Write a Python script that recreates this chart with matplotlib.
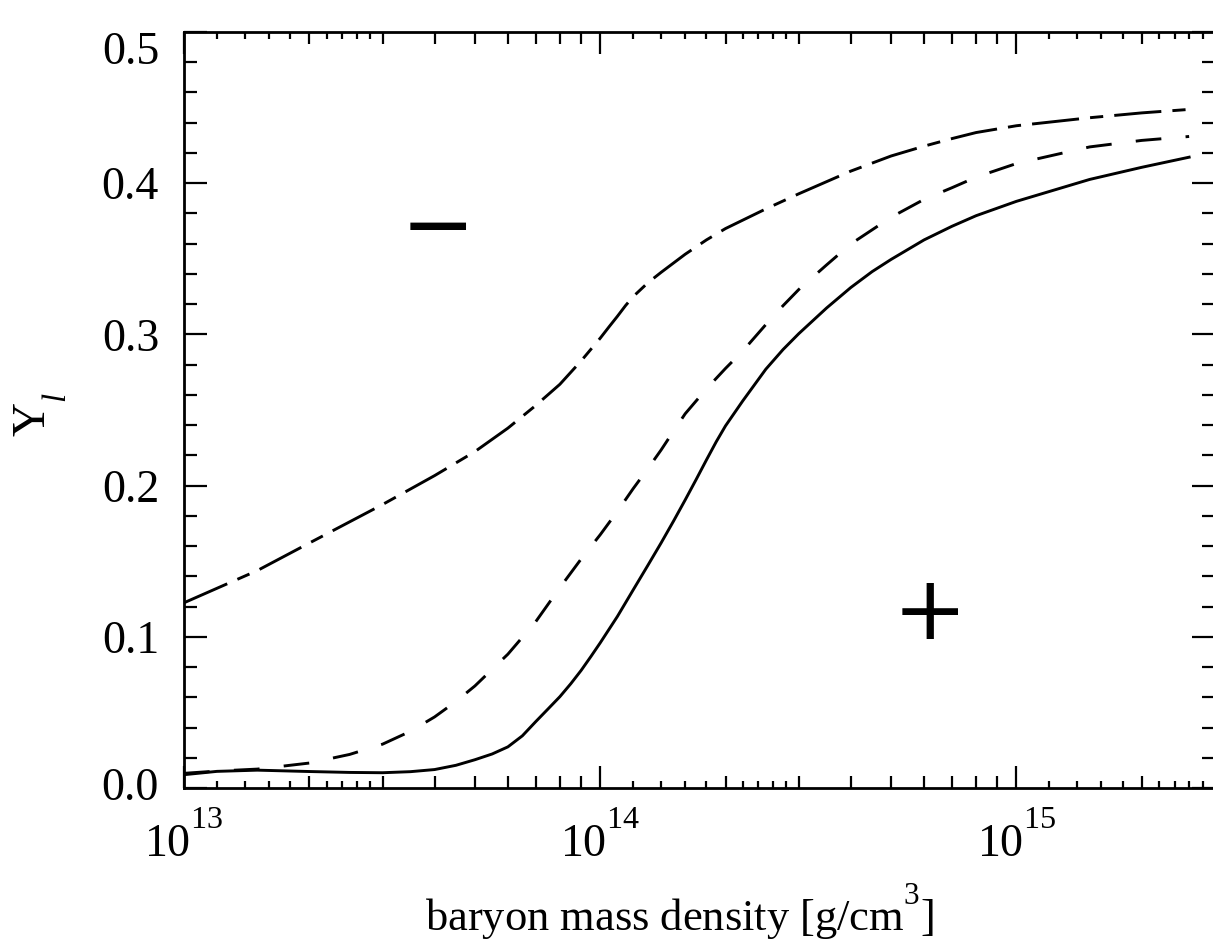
import numpy as np
import matplotlib
matplotlib.use("Agg")
import matplotlib.pyplot as plt
from matplotlib import _mathtext
from matplotlib.transforms import ScaledTranslation
from matplotlib.ticker import FixedLocator, NullLocator, NullFormatter, LogFormatterMathtext, FormatStrFormatter

plt.rcParams['font.family'] = ['Liberation Serif', 'DejaVu Serif']
plt.rcParams['mathtext.fontset'] = 'custom'
plt.rcParams['mathtext.rm'] = 'Liberation Serif'
plt.rcParams['mathtext.it'] = 'Liberation Serif:italic'
plt.rcParams['lines.scale_dashes'] = False
# raise superscripts / drop subscripts further (as in the original typesetting)
_mathtext.FontConstantsBase.sup1 = 1.3
_mathtext.FontConstantsBase.sub1 = 1.0

# ---- data ----
rho_solid = [1e13, 1.2e13, 1.5e13, 2e13, 2.5e13, 3e13, 3.5e13, 4e13, 4.5e13, 5e13, 5.5e13,
             6e13, 6.5e13, 7e13, 7.5e13, 8e13, 8.5e13, 9e13, 9.5e13, 1e14, 1.1e14, 1.2e14,
             1.3e14, 1.4e14, 1.5e14, 1.6e14, 1.7e14, 1.8e14, 1.9e14, 2e14, 2.2e14, 2.5e14,
             2.75e14, 3e14, 3.5e14, 4e14, 4.5e14, 5e14, 6e14, 7e14, 8e14, 1e15, 1.5e15,
             2e15, 2.6e15]
Y_solid = [0.0088, 0.0110, 0.0118, 0.0109, 0.0103, 0.0101, 0.0108, 0.0122, 0.0150, 0.0187, 0.0225,
           0.0272, 0.0345, 0.0439, 0.0524, 0.0604, 0.0690, 0.0778, 0.0870, 0.0960, 0.1135, 0.1310,
           0.1470, 0.1620, 0.1765, 0.1905, 0.2040, 0.2170, 0.2290, 0.2395, 0.2560, 0.2770,
           0.2900, 0.3005, 0.3175, 0.3310, 0.3415, 0.3496, 0.3625, 0.3715, 0.3785, 0.3880, 0.4025,
           0.4105, 0.4172]

rho_dashed = [1e13, 1.2e13, 1.5e13, 2e13, 2.5e13, 3e13, 3.5e13, 4e13, 4.5e13, 5e13, 6e13,
              7e13, 8e13, 9e13, 1e14, 1.1e14, 1.2e14, 1.3e14, 1.4e14, 1.5e14, 1.6e14, 1.7e14,
              1.8e14, 2e14, 2.2e14, 2.5e14, 2.75e14, 3e14, 3.5e14, 4e14, 5e14, 6e14, 7e14,
              8e14, 1e15, 1.5e15, 2e15, 2.6e15]
Y_dashed = [0.0097, 0.0112, 0.0125, 0.0165, 0.0222, 0.0290, 0.0375, 0.0470, 0.0572, 0.0675, 0.0885,
            0.1100, 0.1325, 0.1515, 0.1675, 0.1830, 0.1980, 0.2110, 0.2235, 0.2360, 0.2475, 0.2560,
            0.2640, 0.2775, 0.2890, 0.3065, 0.3190, 0.3297, 0.3460, 0.3598, 0.3775, 0.3893, 0.3970,
            0.4040, 0.4130, 0.4240, 0.4283, 0.4309]

rho_dashdot = [1e13, 1.5e13, 2e13, 3e13, 4e13, 5e13, 6e13, 7e13, 8e13, 9e13, 1e14, 1.05e14,
               1.1e14, 1.15e14, 1.2e14, 1.3e14, 1.4e14, 1.6e14, 1.8e14, 2e14, 2.5e14, 3e14,
               4e14, 5e14, 6e14, 7e14, 8e14, 1e15, 1.5e15, 2e15, 2.6e15]
Y_dashdot = [0.1225, 0.1438, 0.1620, 0.1875, 0.2066, 0.2225, 0.2380, 0.2530, 0.2670, 0.2825, 0.2975, 0.3050,
             0.3120, 0.3190, 0.3250, 0.3340, 0.3410, 0.3530, 0.3625, 0.3700, 0.3830, 0.3930,
             0.4080, 0.4180, 0.4245, 0.4295, 0.4335, 0.4380, 0.4433, 0.4465, 0.4488]

sign_labels = ['\u2212', '+']
sign_rho = [4.07e13, 6.18e14]
sign_Y = [0.3695, 0.1145]

x_lim = (1e13, 3e15)
y_lim = (0.0, 0.5)
y_major = [0.0, 0.1, 0.2, 0.3, 0.4, 0.5]
decades = [1e12, 1e13, 1e14, 1e15]
mid_subs = [2, 3, 4, 5, 6, 7, 8, 9]
fine_subs = [1.2, 1.4, 1.6, 1.8, 2.2, 2.4, 2.6, 2.8]

# ---- figure ----
W, H = 1213, 946
fig = plt.figure(figsize=(W / 100, H / 100), dpi=100)
ax = fig.add_axes([184 / W, (H - 788) / H, (1215 - 184) / W, (788 - 32) / H])

lw = 2.1
ax.plot(rho_solid, Y_solid, color='black', lw=lw, solid_joinstyle='round')
ax.plot(rho_dashed, Y_dashed, color='black', lw=lw, dashes=(18.5, 17.5))
ax.plot(rho_dashdot, Y_dashdot, color='black', lw=lw, dashes=(34, 8, 9.5, 8))

for s, xr, yv in zip(sign_labels, sign_rho, sign_Y):
    ax.text(xr, yv, s, family='DejaVu Sans', fontsize=64, ha='center', va='center')

ax.set_xscale('log')
ax.set_xlim(*x_lim)
ax.set_ylim(*y_lim)

# fine ticks on a twin axis
ax2 = ax.twiny()
ax2.set_xscale('log')
ax2.set_xlim(*x_lim)
ax2.xaxis.set_major_locator(FixedLocator([d * s for d in decades for s in fine_subs]))
ax2.xaxis.set_minor_locator(NullLocator())
ax2.xaxis.set_major_formatter(NullFormatter())
ax2.tick_params(axis='x', which='major', direction='in', top=True, bottom=True,
                labeltop=False, labelbottom=False, length=5, width=1.6)
for sp in ax2.spines.values():
    sp.set_visible(False)

ax.xaxis.set_major_locator(FixedLocator(decades))
ax.xaxis.set_minor_locator(FixedLocator([d * s for d in decades for s in mid_subs]))
ax.xaxis.set_major_formatter(LogFormatterMathtext())
ax.xaxis.set_minor_formatter(NullFormatter())
ax.yaxis.set_major_locator(FixedLocator(y_major))
ax.yaxis.set_minor_locator(FixedLocator(np.arange(0, 0.5001, 0.02)))
ax.yaxis.set_major_formatter(FormatStrFormatter('%.1f'))

ax.tick_params(which='both', direction='in', top=True, bottom=True, left=True, right=True,
               width=1.6, labelsize=33, colors='black')
ax.tick_params(axis='x', which='major', length=16, pad=18)
ax.tick_params(axis='x', which='minor', length=8.6)
ax.tick_params(axis='y', which='major', length=16.5, pad=18)
ax.tick_params(axis='y', which='minor', length=9.4)
for sp in ax.spines.values():
    sp.set_linewidth(2.0)

ax.set_xlabel('baryon mass density [g/cm$^3$]', fontsize=32)
ax.xaxis.set_label_coords(0.48, -0.124)
ax.set_ylabel('Y$_{l}$', fontsize=34)
ax.yaxis.set_label_coords(-0.1125, 0.4934)

# the original nudges the end labels of the y axis inward
yt = ax.yaxis.get_major_ticks()
for idx, dy in ((0, 4), (len(yt) - 1, -16)):
    lab = yt[idx].label1
    lab.set_transform(lab.get_transform() + ScaledTranslation(0, dy / 100, fig.dpi_scale_trans))

fig.savefig('out.png', dpi=100)
